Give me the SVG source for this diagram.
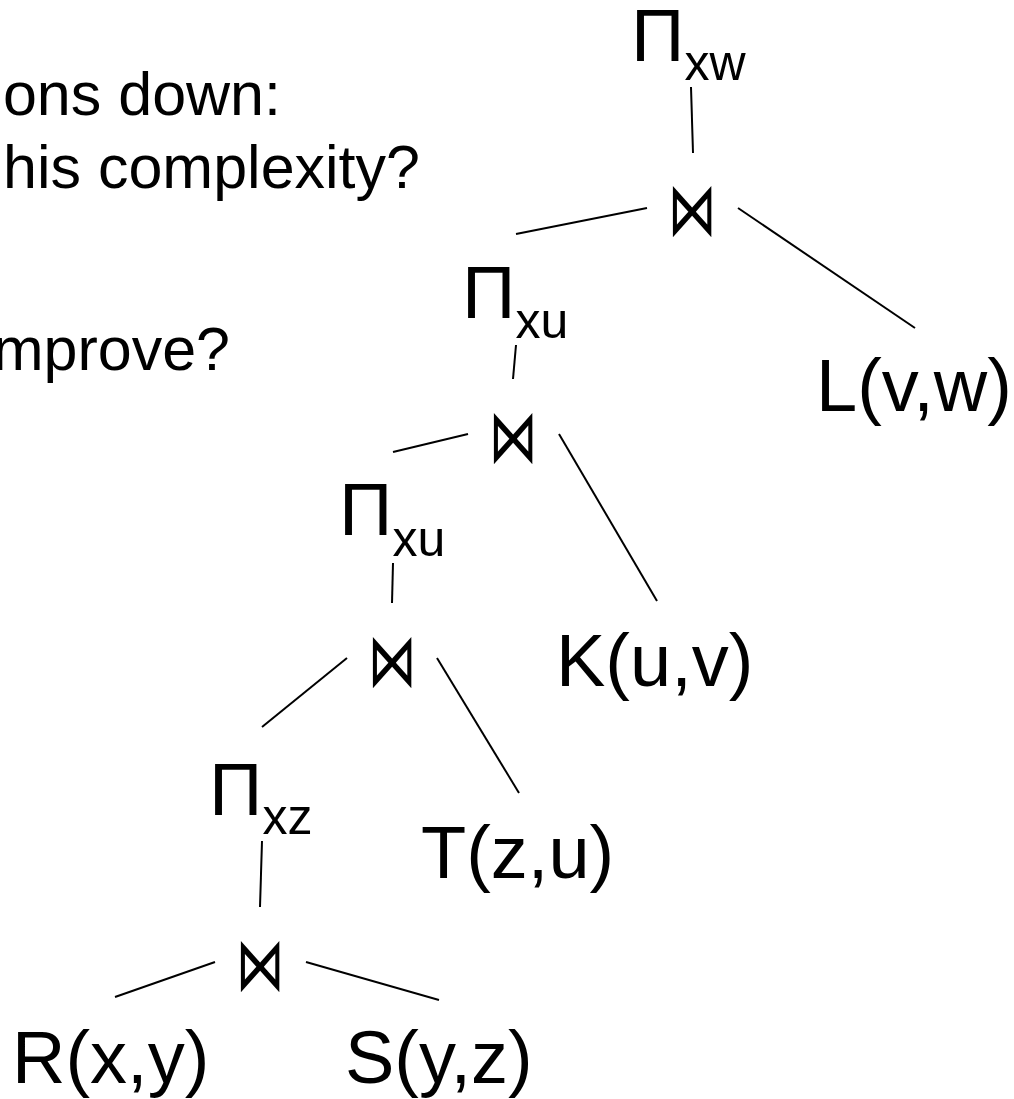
<svg xmlns="http://www.w3.org/2000/svg" width="1014" height="1099" viewBox="0 0 1014 1099">
  <style>
    .t { font-family: "Liberation Sans", Arial, sans-serif; fill: #000; }
    .body { font-size: 61px; }
    .lbl { font-size: 74px; }
    .sub { font-size: 50px; }
    .join { font-family: "DejaVu Sans", sans-serif; font-size: 54px; fill: #000; text-anchor: middle; }
    .edge { stroke: #000; stroke-width: 2; fill: none; }
  </style>
  <rect width="1014" height="1099" fill="#fff"/>

  <g id="intro-text" class="t body">
    <text x="281" y="115" text-anchor="end">ons down:</text>
    <text x="3" y="188">his complexity?</text>
    <text x="230" y="370" text-anchor="end">mprove?</text>
  </g>

  <g id="connectors">
    <line class="edge" x1="691" y1="87" x2="693" y2="153"/>
    <line class="edge" x1="647" y1="208" x2="516" y2="234"/>
    <line class="edge" x1="738" y1="208" x2="915" y2="328"/>
    <line class="edge" x1="516" y1="345" x2="513" y2="379"/>
    <line class="edge" x1="468" y1="434" x2="393" y2="452"/>
    <line class="edge" x1="559" y1="434" x2="657" y2="601"/>
    <line class="edge" x1="393" y1="563" x2="392" y2="603"/>
    <line class="edge" x1="347" y1="658" x2="262" y2="727"/>
    <line class="edge" x1="437" y1="658" x2="519" y2="793"/>
    <line class="edge" x1="262" y1="841" x2="260" y2="907"/>
    <line class="edge" x1="215" y1="962" x2="115" y2="997"/>
    <line class="edge" x1="306" y1="962" x2="439" y2="1000"/>
  </g>

  <g id="proj-xw"><text class="t lbl" x="631" y="61">Π<tspan class="sub" dy="19">xw</tspan></text></g>
  <g id="join-1" transform="translate(692 212) scale(0.9 1.38)"><text class="join" x="0" y="17">⋈</text></g>
  <g id="rel-L"><text class="t lbl" x="816" y="411">L(v,w)</text></g>

  <g id="proj-xu-1"><text class="t lbl" x="462" y="318">Π<tspan class="sub" dy="20">xu</tspan></text></g>
  <g id="join-2" transform="translate(513 439) scale(0.9 1.38)"><text class="join" x="0" y="17">⋈</text></g>
  <g id="rel-K"><text class="t lbl" x="556" y="686">K(u,v)</text></g>

  <g id="proj-xu-2"><text class="t lbl" x="339" y="535">Π<tspan class="sub" dy="21">xu</tspan></text></g>
  <g id="join-3" transform="translate(392 663) scale(0.9 1.38)"><text class="join" x="0" y="17">⋈</text></g>
  <g id="rel-T"><text class="t lbl" x="421" y="878">T(z,u)</text></g>

  <g id="proj-xz"><text class="t lbl" x="209" y="815">Π<tspan class="sub" dy="19">xz</tspan></text></g>
  <g id="join-4" transform="translate(260 967) scale(0.9 1.38)"><text class="join" x="0" y="17">⋈</text></g>
  <g id="rel-R"><text class="t lbl" x="12" y="1083">R(x,y)</text></g>
  <g id="rel-S"><text class="t lbl" x="345" y="1083">S(y,z)</text></g>
</svg>
